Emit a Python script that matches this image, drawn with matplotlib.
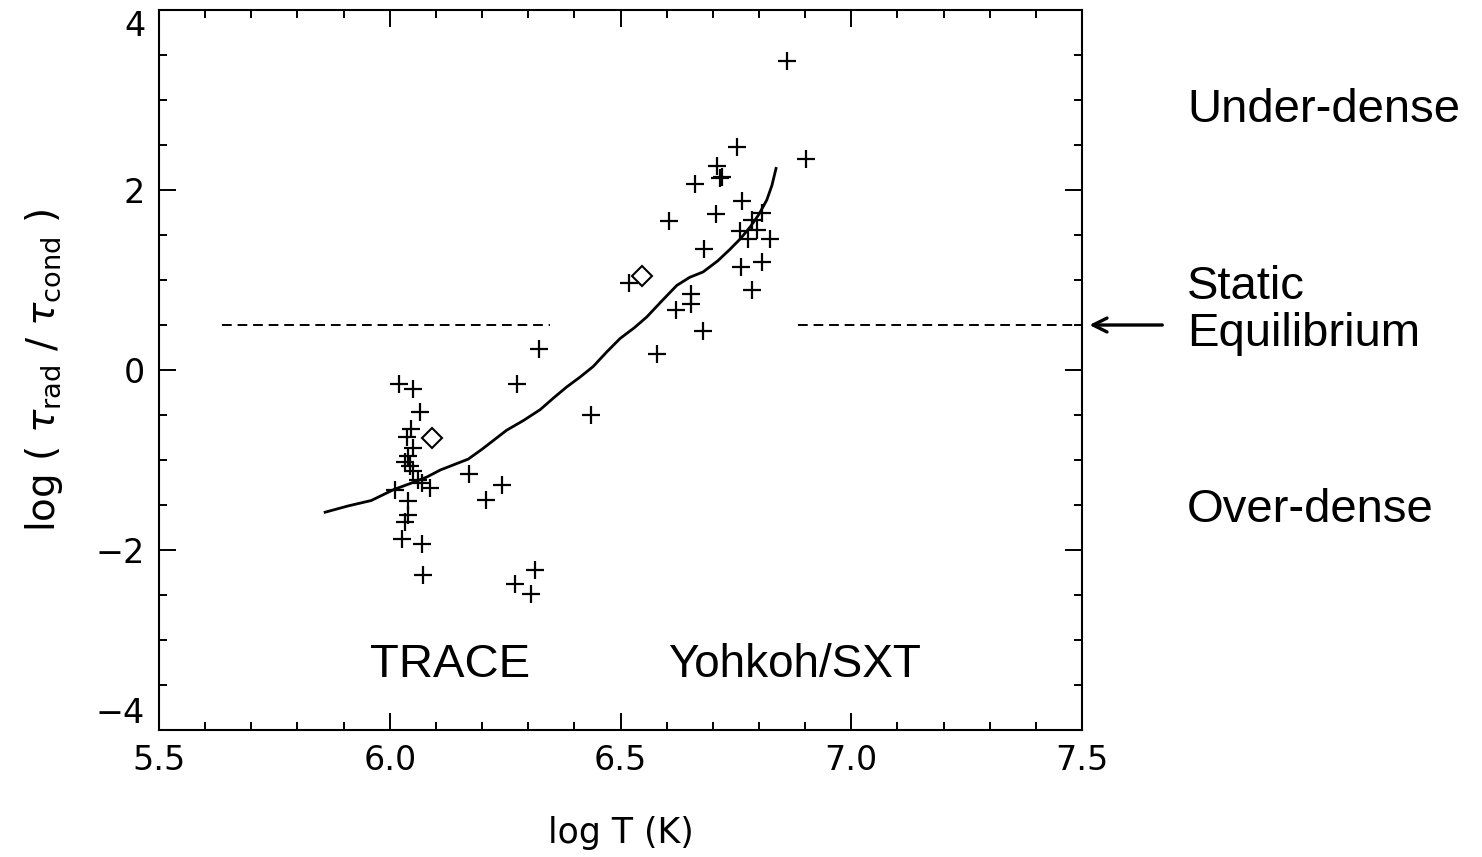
import numpy as np
import matplotlib
matplotlib.use('Agg')
import matplotlib.pyplot as plt
from matplotlib.ticker import MultipleLocator, FuncFormatter

# --- datos ---
trace_logT = [6.021, 6.051, 6.066, 6.045, 6.037, 6.051, 6.040, 6.033, 6.044, 6.050,
              6.062, 6.070, 6.087, 6.011, 6.040, 6.040, 6.033, 6.026, 6.069, 6.073]
trace_ratio = [-0.15, -0.21, -0.47, -0.65, -0.74, -0.87, -0.95, -1.02, -1.07, -1.12,
               -1.22, -1.25, -1.31, -1.33, -1.46, -1.61, -1.69, -1.88, -1.93, -2.28]

mid_logT = [6.172, 6.243, 6.208, 6.315, 6.271, 6.305, 6.275, 6.323, 6.437]
mid_ratio = [-1.16, -1.28, -1.44, -2.22, -2.38, -2.49, -0.15, 0.23, -0.50]

sxt_logT = [6.518, 6.578, 6.620, 6.653, 6.653, 6.679, 6.605, 6.661, 6.681, 6.707,
            6.708, 6.716, 6.720, 6.753, 6.764, 6.806, 6.784, 6.795, 6.759, 6.777,
            6.824, 6.806, 6.762, 6.784, 6.860, 6.903]
sxt_ratio = [0.97, 0.18, 0.67, 0.73, 0.85, 0.43, 1.66, 2.07, 1.34, 1.73,
             2.27, 2.13, 2.14, 2.48, 1.88, 1.75, 1.67, 1.56, 1.54, 1.46,
             1.46, 1.20, 1.14, 0.89, 3.43, 2.34]

mean_logT = [6.091, 6.547]
mean_ratio = [-0.75, 1.04]

# curva del modelo (leida a mano)
model_logT = [5.860, 5.910, 5.960, 6.008, 6.045, 6.080, 6.110, 6.140, 6.170, 6.200,
              6.253, 6.290, 6.326, 6.355, 6.383, 6.412, 6.441, 6.470, 6.499, 6.530,
              6.557, 6.590, 6.622, 6.650, 6.679, 6.710, 6.737, 6.760, 6.781, 6.800,
              6.817, 6.828, 6.837]
model_ratio = [-1.58, -1.51, -1.45, -1.33, -1.26, -1.19, -1.11, -1.05, -0.99, -0.88,
               -0.67, -0.56, -0.44, -0.31, -0.19, -0.08, 0.04, 0.20, 0.35, 0.47,
               0.59, 0.77, 0.94, 1.03, 1.09, 1.21, 1.34, 1.46, 1.59, 1.73,
               1.89, 2.05, 2.24]

equil_level = 0.5
equil_left = [5.637, 6.347]
equil_right = [6.885, 7.5]

y_ticks = [-4, -2, 0, 2, 4]
y_ticklabels = ['\u22124', '\u22122', '0', '2', '4']

fig = plt.figure(figsize=(14.82, 8.57), dpi=100)
ax = fig.add_axes([0.1073, 0.1482, 0.6228, 0.8401])

x_all = trace_logT + mid_logT + sxt_logT
y_all = trace_ratio + mid_ratio + sxt_ratio
ax.plot(x_all, y_all, linestyle='none', marker='+', color='black',
        markersize=13, markeredgewidth=1.6)
ax.plot(mean_logT, mean_ratio, linestyle='none', marker='D', color='black',
        markersize=10, markerfacecolor='none', markeredgewidth=1.5)
ax.plot(model_logT, model_ratio, color='black', linewidth=2)

ax.plot(equil_left, [equil_level] * 2, color='black', linestyle=(0, (5, 3)), linewidth=1.4)
ax.plot(equil_right, [equil_level] * 2, color='black', linestyle=(0, (5, 3)), linewidth=1.4)

ax.set_xlim(5.5, 7.5)
ax.set_ylim(-4, 4)
ax.xaxis.set_major_locator(MultipleLocator(0.5))
ax.xaxis.set_minor_locator(MultipleLocator(0.1))
ax.set_yticks(y_ticks, y_ticklabels)
ax.yaxis.set_minor_locator(MultipleLocator(0.5))
ax.tick_params(which='both', direction='in', top=True, right=True, width=1.4)
ax.tick_params(which='major', length=12, labelsize=24, pad=10)
ax.tick_params(which='minor', length=6)
for s in ax.spines.values():
    s.set_linewidth(1.5)
ax.xaxis.set_major_formatter(FuncFormatter(lambda v, p: '%.1f' % v))

# como en IDL, las etiquetas extremas quedan dentro del eje
for lab in ax.get_yticklabels():
    if lab.get_text() == '4':
        lab.set_va('top')
    elif lab.get_text() == '\u22124':
        lab.set_va('bottom')

ax.set_xlabel('log T (K)', fontsize=25, labelpad=28)
ax.set_ylabel(r'log ( $\tau_{\rm rad}$ / $\tau_{\rm cond}$ )', fontsize=28, labelpad=22)

arial = 'Liberation Sans'
ax.text(6.13, -3.28, 'TRACE', fontsize=34, family=arial, ha='center', va='center')
ax.text(6.603, -3.28, 'Yohkoh/SXT', fontsize=33, family=arial, ha='left', va='center')

fig.text(0.801, 0.872, 'Under-dense', fontsize=34, family=arial, ha='left', va='center')
fig.text(0.801, 0.638, 'Static\nEquilibrium', fontsize=34, family=arial, ha='left', va='center',
         linespacing=1.1)
fig.text(0.801, 0.405, 'Over-dense', fontsize=34, family=arial, ha='left', va='center')

ax.annotate('', xy=(7.51, equil_level), xytext=(7.68, equil_level),
            arrowprops=dict(arrowstyle='->,head_length=1.0,head_width=0.5',
                            color='black', lw=2.4),
            annotation_clip=False)

fig.savefig('out.png', dpi=100)
